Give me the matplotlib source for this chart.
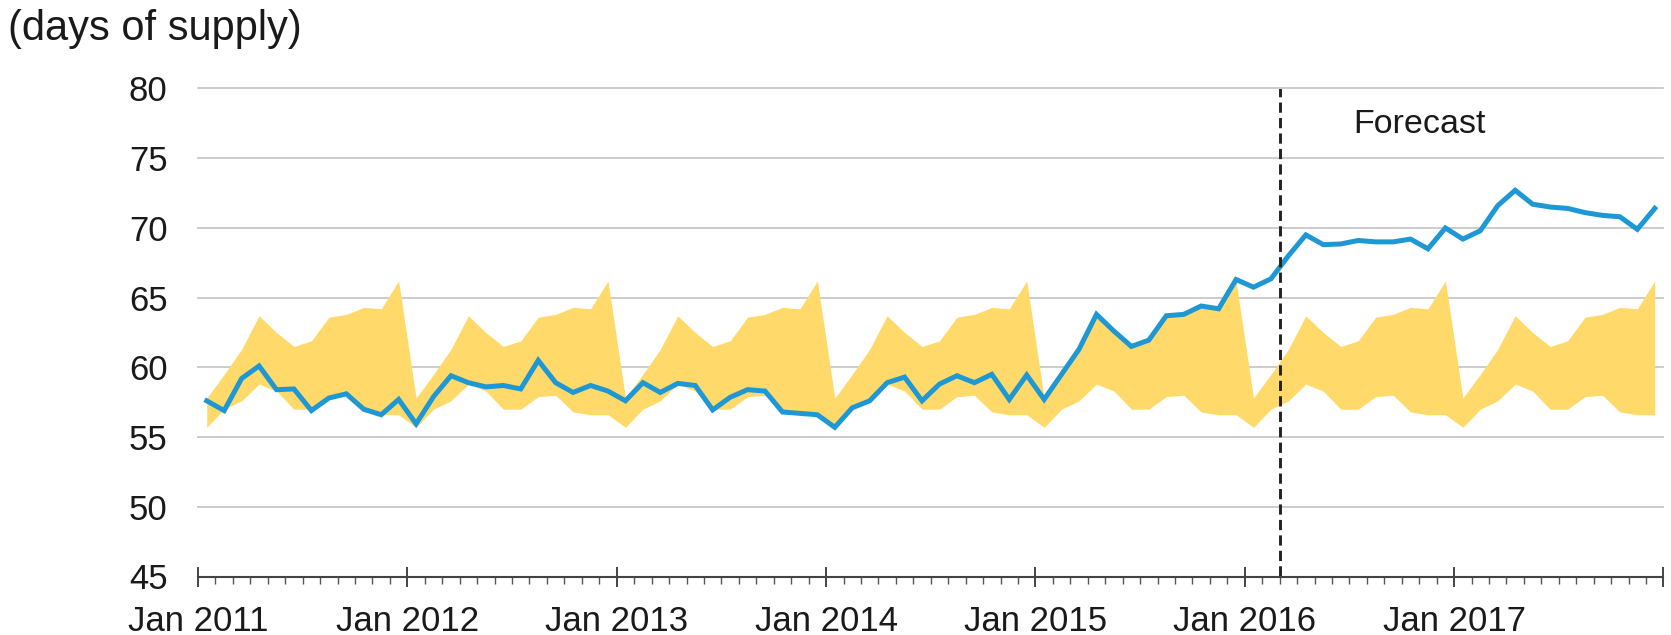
import numpy as np
import matplotlib
matplotlib.use("Agg")
import matplotlib.pyplot as plt

plt.rcParams['font.family'] = ['Liberation Sans', 'DejaVu Sans']

# ---- data ----
years = [2011, 2012, 2013, 2014, 2015, 2016, 2017]
tick_labels = ["Jan 2011", "Jan 2012", "Jan 2013", "Jan 2014",
               "Jan 2015", "Jan 2016", "Jan 2017", ""]
# five-year range by calendar month (Jan..Dec), same band each year
range_low = [55.7, 57.0, 57.6, 58.8, 58.3, 57.0, 57.0, 57.9, 58.0, 56.8, 56.6, 56.6]
range_high = [57.8, 59.5, 61.3, 63.7, 62.5, 61.5, 61.9, 63.6, 63.8, 64.3, 64.2, 66.2]
# days of supply, monthly Jan 2011 - Dec 2017
days_supply = [
    57.6, 56.9, 59.2, 60.1, 58.4, 58.45, 56.9, 57.8, 58.1, 57.0, 56.6, 57.7,
    55.95, 57.9, 59.4, 58.9, 58.6, 58.7, 58.45, 60.5, 58.9, 58.2, 58.7, 58.3,
    57.6, 58.9, 58.2, 58.85, 58.7, 56.95, 57.85, 58.4, 58.3, 56.8, 56.7, 56.6,
    55.7, 57.1, 57.6, 58.9, 59.3, 57.6, 58.8, 59.4, 58.9, 59.5, 57.7, 59.45,
    57.7, 59.5, 61.3, 63.8, 62.6, 61.5, 61.95, 63.7, 63.8, 64.4, 64.2, 66.3,
    65.75, 66.35, 68.0, 69.5, 68.8, 68.85, 69.1, 69.0, 69.0, 69.2, 68.5, 70.0,
    69.2, 69.8, 71.6, 72.7, 71.7, 71.5, 71.4, 71.1, 70.9, 70.8, 69.9, 71.4,
]
forecast_start_month = 62  # March 2016
forecast_label = "Forecast"
y_ticks = [45, 50, 55, 60, 65, 70, 75, 80]

# ---- figure ----
W, H, DPI = 1671, 635, 100
fig = plt.figure(figsize=(W / DPI, H / DPI), dpi=DPI)
ax = fig.add_axes([198 / W, 1 - 576.5 / H, (1663.5 - 198) / W, (576.5 - 88.5) / H])

n = len(days_supply)
x = np.arange(n) + 0.5
low = np.tile(range_low, len(years))
high = np.tile(range_high, len(years))

for v in y_ticks[1:]:
    ax.axhline(v, color="#C8C8C8", linewidth=1.3, zorder=1, clip_on=False)

ax.fill_between(x, low, high, color="#FFDA6B", linewidth=0, zorder=2)
ax.plot(x, days_supply, color="#1E98D4", linewidth=3.6, zorder=4,
        solid_joinstyle="miter")

ax.set_xlim(0, 12 * len(years))
ax.set_ylim(45, 80)
ax.set_yticks(y_ticks)
ax.set_yticklabels([str(v) for v in y_ticks])

ax.set_xticks(np.arange(0, 12 * len(years) + 1, 12))
ax.set_xticklabels(tick_labels)
ax.set_xticks(np.arange(0, 12 * len(years) + 1, 1), minor=True)

ax.vlines(forecast_start_month, 45, 80, colors="#222222", linestyles=(0, (3.5, 1.8)),
          linewidth=2.1, zorder=5)
ax.text(70.0, 77.4, forecast_label, fontsize=24.5, color="#1a1a1a",
        ha="center", va="center", zorder=6)

for s in ["top", "right", "left"]:
    ax.spines[s].set_visible(False)
ax.spines["bottom"].set_color("#444444")
ax.spines["bottom"].set_linewidth(1.5)
ax.spines["bottom"].set_zorder(6)

ax.tick_params(axis="y", length=0, pad=22, labelsize=25, labelcolor="#1a1a1a")
ax.tick_params(axis="x", which="major", direction="inout", length=15, width=1.4,
               color="#444444", pad=13, labelsize=25, labelcolor="#1a1a1a")
ax.tick_params(axis="x", which="minor", direction="out", length=5, width=1.0,
               color="#555555")

fig.text(8 / W, 1 - 40 / H, "(days of supply)", fontsize=30, color="#1a1a1a",
         ha="left", va="baseline")

fig.savefig("out.png", dpi=DPI)
